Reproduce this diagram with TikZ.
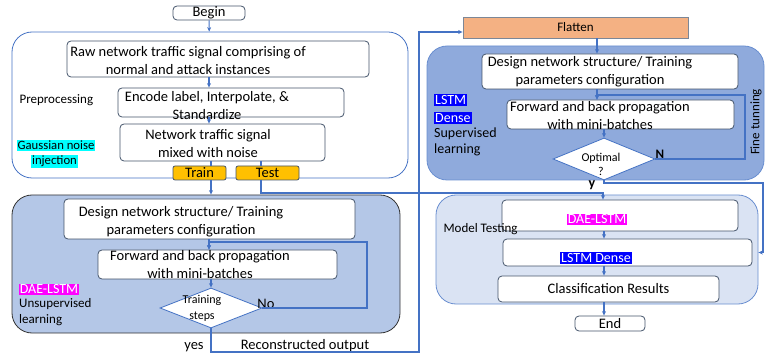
\documentclass[tikz,border=0pt]{standalone}
\usepackage{fontspec}
\setmainfont{Carlito}
\usepackage{tikz}
\usetikzlibrary{arrows.meta,positioning,shapes.geometric}
\definecolor{lineblue}{HTML}{4472C4}
\definecolor{boxgray}{HTML}{44546A}
\definecolor{daefill}{HTML}{B4C7E7}
\definecolor{lstmfill}{HTML}{8FAADC}
\definecolor{testfill}{HTML}{DAE3F3}
\definecolor{flatfill}{HTML}{F4B183}
\definecolor{trainfill}{HTML}{FFC000}
\definecolor{daemag}{HTML}{FF00FF}
\definecolor{denseblue}{HTML}{0000FF}
\definecolor{gausscyan}{HTML}{00FFFF}

\begin{document}
\begin{tikzpicture}[x=1pt,y=-1pt,>={Stealth[length=4.5pt,width=4pt]},font=\fontsize{14.5}{18}\selectfont]
  \tikzstyle{box}=[draw=boxgray,fill=white,rounded corners=4pt,line width=0.8pt,inner sep=0pt]
  \tikzstyle{group}=[rounded corners=20pt,line width=0.8pt,inner sep=0pt]
  \tikzstyle{txt}=[align=center,inner sep=0pt]
  \tikzstyle{small}=[font=\fontsize{13}{16}\selectfont]
  \tikzstyle{tiny}=[font=\fontsize{12}{16}\selectfont]
  \tikzstyle{flow}=[draw=lineblue,line width=1.1pt]
  \tikzstyle{tag}=[inner sep=1pt,text=white,font=\fontsize{14}{16}\selectfont]
  \tikzstyle{decision}=[diamond,draw=lineblue,fill=white,line width=0.8pt,inner sep=0pt]
  \useasboundingbox (0,0) rectangle (774,358);

  \node[box,minimum width=72,minimum height=14] (begin) at (209,13) {Begin};

  \node[group,draw=lineblue,minimum width=396,minimum height=146] (prep) at (210,105) {};
  \node[box,minimum width=302,minimum height=36] (raw) at (218,59) {};
  \node[txt] (rawtxt) at (188,61) {Raw network traffic signal comprising of\\normal and attack instances};
  \node[box,minimum width=226,minimum height=29] (enc) at (231,102.5) {};
  \node[txt] (enctxt) at (207,106) {Encode label, Interpolate, \&\\Standardize};
  \node[box,minimum width=205,minimum height=37] (noise) at (222.5,142.5) {};
  \node[txt] (noisetxt) at (208,144) {Network traffic signal\\mixed with noise};
  \node[box,fill=trainfill,rounded corners=2pt,minimum width=53,minimum height=14] (train) at (199.5,173) {Train};
  \node[box,fill=trainfill,rounded corners=2pt,minimum width=63,minimum height=14] (test) at (267.5,173) {Test};
  \node[small,anchor=west] (preplbl) at (16,100) {Preprocessing};
  \node[fill=gausscyan,inner sep=1pt,font=\fontsize{12.7}{16}\selectfont] (gaussA) at (56,145.5) {Gaussian noise};
  \node[fill=gausscyan,inner sep=1pt,font=\fontsize{12.7}{16}\selectfont] (gaussB) at (54.5,161.5) {injection};

  \node[group,draw=black!80,fill=daefill,minimum width=388,minimum height=138] (dae) at (206,264) {};
  \node[box,minimum width=291,minimum height=40] (dsgnA) at (209.5,219) {};
  \node[txt] (dsgnAtxt) at (181,222) {Design network structure/ Training\\parameters configuration};
  \node[box,minimum width=239,minimum height=29] (fwdA) at (217.5,264.5) {};
  \node[txt] (fwdAtxt) at (200,265) {Forward and back propagation\\with mini-batches};
  \node[decision,minimum width=102,minimum height=40] (optA) at (211,308) {};
  \node[txt,tiny] (optAtxt) at (202,308) {Training\\steps};
  \node (nolbl) at (266,304) {No};
  \node[tag,fill=daemag] (daetag) at (49,289.5) {DAE-LSTM};
  \node[small,align=left,anchor=north west,inner sep=0pt] (unsup) at (19,298) {Unsupervised\\learning};
  \node (yes) at (194,347) {yes};
  \node (recon) at (305,346) {Reconstructed output};

  \node[box,fill=flatfill,draw=boxgray!70,rounded corners=0pt,small,minimum width=225,minimum height=21] (flatten) at (575.5,27.5) {Flatten};
  \node[group,draw=lineblue!80,fill=lstmfill,minimum width=337,minimum height=134] (lstm) at (595.5,113) {};
  \node[box,minimum width=256,minimum height=35] (dsgnB) at (610,71.5) {};
  \node[txt] (dsgnBtxt) at (590,72) {Design network structure/ Training\\parameters configuration};
  \node[box,minimum width=227,minimum height=29] (fwdB) at (620.5,114.5) {};
  \node[txt] (fwdBtxt) at (600,116) {Forward and back propagation\\with mini-batches};
  \node[decision,minimum width=102,minimum height=42] (optB) at (604,159) {};
  \node[txt,font=\fontsize{12}{14}\selectfont] (optBtxt) at (601,164) {Optimal\\?};
  \node[font=\fontsize{13}{14}\bfseries] (nlbl) at (660,154) {N};
  \node[small,rotate=90] (fine) at (756,122) {Fine tunning};
  \node[tag,fill=denseblue,anchor=west] (lstmA) at (434,100) {LSTM};
  \node[tag,fill=denseblue,anchor=west] (lstmB) at (434,118) {Dense};
  \node[align=left,anchor=north west,inner sep=0pt,font=\fontsize{14}{16}\selectfont] (sup) at (434,128) {Supervised\\learning};
  \node[font=\fontsize{14}{14}\bfseries] (ylbl) at (592,185) {y};

  \node[group,draw=lineblue!80,fill=testfill,minimum width=322,minimum height=109] (mt) at (597,249.5) {};
  \node[box,minimum width=236,minimum height=31] (mtdae) at (620,215.5) {};
  \node[tag,fill=daemag] (mtdaetag) at (597,219.5) {DAE-LSTM};
  \node[small,anchor=west] (mtlbl) at (440,229) {Model Testing};
  \node[box,minimum width=249,minimum height=27] (mtlstm) at (627.5,252.5) {};
  \node[tag,fill=denseblue] (mtlstmtag) at (596,258) {LSTM Dense};
  \node[box,minimum width=221,minimum height=26] (cls) at (608.5,289) {Classification Results};
  \node[box,minimum width=70,minimum height=15] (end) at (610,323.5) {End};

  \coordinate (testout) at (261,180);
  \coordinate (testturn) at (603,193);
  \coordinate (reconturn) at (419,352);
  \coordinate (noloop) at (367,242);
  \coordinate (fineloop) at (745,95);
  \coordinate (yturn) at (763,183);
  \coordinate (flowB) at (597,0);

  \draw[flow,->] (begin) -- (prep);
  \draw[flow,->] (raw.south -| begin) -- (enc.north -| begin);
  \draw[flow,->] (enc.south -| begin) -- (noise.north -| begin);
  \draw[flow] (noise.south -| optA) -- (train.north -| optA);
  \draw[flow] (noise.south -| testout) -- (testout |- test.north);
  \draw[flow,->] (train.south -| optA) -- (dae.north -| optA);
  \draw[flow,->] (testout) |- (testturn) -- (testturn |- mtdae.north);
  \draw[flow,->] (dsgnA.south -| begin) -- (fwdA.north -| begin);
  \draw[flow,->] (fwdA.south -| optA) -- (optA.north);
  \draw[flow,->] (optA.east) -| (noloop) -| (fwdA.north -| begin);
  \draw[flow,->] (optA.south) |- (reconturn) |- ([yshift=-4.5pt]flatten.west);
  \draw[flow,->] (flatten.south -| flowB) -- (dsgnB.north -| flowB);
  \draw[flow,->] (dsgnB.south -| flowB) -- (fwdB.north -| flowB);
  \draw[flow,->] (fwdB.south -| optB) -- (optB.north);
  \draw[flow,->] (optB.east) -| (fineloop) -| (fwdB.north -| flowB);
  \draw[flow,->] (optB.south) |- (yturn) |- (mt.east |- mtlstm);
  \draw[flow,->] (mtdae.south -| optB) -- (mtlstm.north -| optB);
  \draw[flow,->] (mtlstm.south -| optB) -- (cls.north -| optB);
  \draw[flow,->] (cls.south -| optB) -- (end.north -| optB);
\end{tikzpicture}
\end{document}
